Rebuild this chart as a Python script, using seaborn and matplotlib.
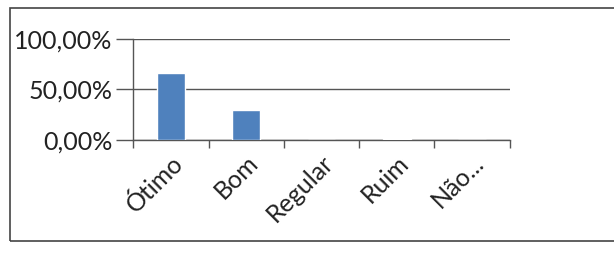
import matplotlib
matplotlib.use("Agg")
import matplotlib.pyplot as plt
import matplotlib.ticker as mticker
from matplotlib.patches import Rectangle
import seaborn as sns
import pandas as pd

# answers and share of each
categorias = ["Ótimo", "Bom", "Regular", "Ruim", "Não..."]
percentuais = [66.0, 30.0, 0.0, 1.0, 0.0]
y_ticks = [0, 50, 100]

sns.set_theme(style="white")
plt.rcParams['font.family'] = ['Lato', 'DejaVu Sans']

df = pd.DataFrame({"cat": categorias, "pct": percentuais})

fig = plt.figure(figsize=(6.14, 2.59), dpi=100)
ax = fig.add_axes([0.217, 0.46, 0.613, 0.39])

sns.barplot(data=df, x="cat", y="pct", color="#4F81BD", width=0.37,
            saturation=1, ax=ax, zorder=3)

ax.set_ylim(0, 100)
ax.set_xlim(-0.5, len(categorias) - 0.5)
ax.set_yticks(y_ticks)
ax.yaxis.set_major_formatter(mticker.FuncFormatter(lambda v, p: f"{v:.2f}%".replace(".", ",")))
ax.yaxis.grid(True, color="#555555", linewidth=1.0, zorder=0)
ax.set_xlabel("")
ax.set_ylabel("")

for s in ["top", "right"]:
    ax.spines[s].set_visible(False)
for s in ["left", "bottom"]:
    ax.spines[s].set_color("#555555")
    ax.spines[s].set_linewidth(1.0)

ax.tick_params(axis="y", length=12, width=1, color="#555555", labelsize=18,
               labelcolor="#222222", left=True, pad=3)
ax.tick_params(axis="x", which="major", length=0, labelsize=18,
               labelcolor="#222222", pad=8)
ax.set_xticks([i - 0.5 for i in range(len(categorias) + 1)], minor=True)
ax.tick_params(axis="x", which="minor", length=6, width=1, color="#555555", bottom=True)
plt.setp(ax.get_xticklabels(), rotation=45, ha="right", rotation_mode="anchor")

# chart border
fig.patches.append(Rectangle((0.016, 0.07), 1.2, 0.9, transform=fig.transFigure,
                             fill=False, edgecolor="#444444", linewidth=1.2))

fig.savefig("out.png", dpi=100)
